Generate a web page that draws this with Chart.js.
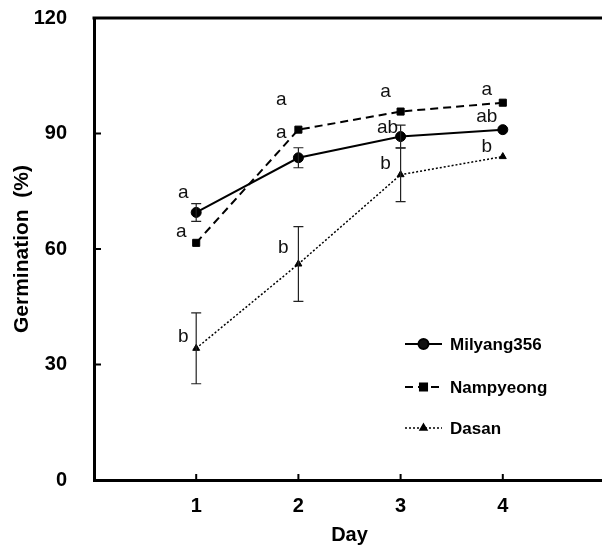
<!DOCTYPE html>
<html>
<head>
<meta charset="utf-8">
<script src="https://cdn.jsdelivr.net/npm/chart.js@4"></script>
<style>
  html, body { margin: 0; padding: 0; background: #fff; overflow: hidden; }
  #wrap { width: 602px; height: 547px; overflow: hidden; }
  canvas { display: block; }
</style>
</head>
<body>
<div id="wrap"><canvas id="germChart" width="611" height="547"></canvas></div>
<script>
// data
const days = [1, 2, 3, 4];
const yTicks = [0, 30, 60, 90, 120];
const milyang = [69.5, 83.7, 89.2, 91.0];
const milyangErr = [2.3, 2.6, 3.0, 0];
const nampyeong = [61.6, 91.0, 95.7, 98.0];
const nampyeongErr = [0, 0, 0, 0];
const dasan = [34.2, 56.1, 79.3, 84.0];
const dasanErr = [9.2, 9.7, 7.0, 0];
const milyangLetters = ['a', 'a', 'ab', 'ab'];
const nampyeongLetters = ['a', 'a', 'a', 'a'];
const dasanLetters = ['b', 'b', 'b', 'b'];

// pixel offsets of the letters from their point
const letterOffsets = [
    [[-13, -20], [-17, -25], [-13, -9], [-16, -13]],
    [[-15, -11], [-17, -30], [-15, -20], [-16, -13]],
    [[-13, -12], [-15, -16], [-15, -11], [-16, -10]]
];

const FONT = '"Liberation Sans", Arial, sans-serif';

function toXY(vals) {
    return vals.map((v, i) => ({ x: days[i], y: v }));
}

const series = [
    { label: 'Milyang356', data: milyang, err: milyangErr, letters: milyangLetters,
      dash: [], width: 2, point: 'circle', radius: 5 },
    { label: 'Nampyeong', data: nampyeong, err: nampyeongErr, letters: nampyeongLetters,
      dash: [8, 5], width: 2, point: 'rect', radius: 5 },
    { label: 'Dasan', data: dasan, err: dasanErr, letters: dasanLetters,
      dash: [2, 2], width: 1.5, point: 'triangle', radius: 4 }
];

// error bars, letters, frame, inner ticks and legend
const extrasPlugin = {
    id: 'extras',
    afterDatasetsDraw(chart) {
        const ctx = chart.ctx;
        const xs = chart.scales.x, ys = chart.scales.y;
        const area = chart.chartArea;
        ctx.save();

        // error bars
        ctx.strokeStyle = '#222';
        ctx.lineWidth = 1.2;
        series.forEach(s => {
            s.data.forEach((v, i) => {
                if (!s.err[i]) return;
                const px = xs.getPixelForValue(days[i]);
                const top = ys.getPixelForValue(v + s.err[i]);
                const bot = ys.getPixelForValue(v - s.err[i]);
                ctx.beginPath();
                ctx.moveTo(px, top); ctx.lineTo(px, bot);
                ctx.moveTo(px - 5, top); ctx.lineTo(px + 5, top);
                ctx.moveTo(px - 5, bot); ctx.lineTo(px + 5, bot);
                ctx.stroke();
            });
        });

        // significance letters
        ctx.fillStyle = '#111';
        ctx.font = '19px ' + FONT;
        ctx.textAlign = 'center';
        ctx.textBaseline = 'middle';
        series.forEach((s, si) => {
            s.letters.forEach((t, i) => {
                const px = xs.getPixelForValue(days[i]) + letterOffsets[si][i][0];
                const py = ys.getPixelForValue(s.data[i]) + letterOffsets[si][i][1];
                ctx.fillText(t, px, py);
            });
        });

        // top frame line
        ctx.strokeStyle = '#000';
        ctx.lineWidth = 3;
        ctx.beginPath();
        ctx.moveTo(area.left - 1.5, area.top);
        ctx.lineTo(area.right + 4, area.top);
        ctx.stroke();

        // inward tick marks
        ctx.lineWidth = 2;
        ctx.beginPath();
        yTicks.slice(1, -1).forEach(t => {
            const py = ys.getPixelForValue(t);
            ctx.moveTo(area.left, py); ctx.lineTo(area.left + 7, py);
        });
        days.forEach(d => {
            const px = xs.getPixelForValue(d);
            ctx.moveTo(px, area.bottom); ctx.lineTo(px, area.bottom - 6);
        });
        ctx.stroke();

        // legend
        const rows = [344, 387, 428];
        chart.data.datasets.forEach((ds, i) => {
            const y = rows[i];
            ctx.strokeStyle = '#000';
            ctx.lineWidth = ds.borderWidth;
            ctx.setLineDash(ds.borderDash || []);
            ctx.beginPath();
            ctx.moveTo(405, y); ctx.lineTo(442, y);
            ctx.stroke();
            ctx.setLineDash([]);
            Chart.helpers.drawPoint(ctx, {
                pointStyle: ds.pointStyle, radius: ds.pointRadius, borderWidth: 1
            }, 423.5, y);
            ctx.fillStyle = '#000';
            ctx.font = 'bold 17px ' + FONT;
            ctx.textAlign = 'left';
            ctx.fillText(ds.label, 450, y + 1);
        });

        ctx.restore();
    }
};

const ctx = document.getElementById('germChart').getContext('2d');
const germChart = new Chart(ctx, {
    type: 'line',
    data: {
        datasets: series.map(s => ({
            label: s.label,
            data: toXY(s.data),
            borderColor: '#000',
            backgroundColor: '#000',
            borderWidth: s.width,
            borderDash: s.dash,
            pointStyle: s.point,
            pointRadius: s.radius,
            pointBorderWidth: 1,
            tension: 0,
            fill: false
        }))
    },
    options: {
        responsive: false,
        animation: false,
        layout: { padding: { top: 18, right: 2, left: 0, bottom: 0 } },
        plugins: {
            legend: { display: false },
            tooltip: { enabled: false }
        },
        scales: {
            x: {
                type: 'linear',
                min: 0,
                max: 5,
                afterFit(scale) {
                    scale.height = 67;
                    scale.paddingLeft = 0;
                    scale.paddingRight = 0;
                },
                afterBuildTicks(scale) { scale.ticks = days.map(d => ({ value: d })); },
                grid: { display: false, drawTicks: false },
                border: { display: true, color: '#000', width: 3 },
                ticks: {
                    color: '#000',
                    padding: 14,
                    font: { family: FONT, size: 20, weight: 'bold' }
                },
                title: {
                    display: true,
                    text: 'Day',
                    color: '#000',
                    padding: { top: 2, bottom: 0 },
                    font: { family: FONT, size: 20, weight: 'bold' }
                }
            },
            y: {
                min: 0,
                max: 120,
                afterFit(scale) {
                    scale.width = 94;
                    scale.paddingTop = 0;
                    scale.paddingBottom = 0;
                },
                afterBuildTicks(scale) { scale.ticks = yTicks.map(v => ({ value: v })); },
                grid: { display: false, drawTicks: false },
                border: { display: true, color: '#000', width: 3 },
                ticks: {
                    color: '#000',
                    padding: 27,
                    font: { family: FONT, size: 20, weight: 'bold' }
                },
                title: {
                    display: true,
                    text: 'Germination  (%)',
                    color: '#000',
                    padding: { top: 10, bottom: 0 },
                    font: { family: FONT, size: 21, weight: 'bold' }
                }
            }
        }
    },
    plugins: [extrasPlugin]
});
</script>
</body>
</html>
